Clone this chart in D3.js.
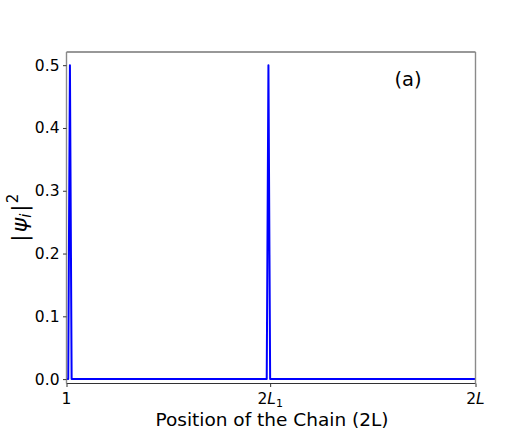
<!DOCTYPE html>
<html>
<head>
<meta charset="utf-8">
<script src="https://cdn.jsdelivr.net/npm/d3@7"></script>
<style>
  html, body { margin: 0; padding: 0; background: #fff; }
  svg { display: block; }
  text { font-family: "DejaVu Sans", sans-serif; }
</style>
</head>
<body>
<svg id="chart" width="529" height="432"></svg>
<script>
// ---- data ----
const nSites = 240;               // 2L sites along the chain
const halfSite = 120;             // 2L1
const peakSites = [3, 119];       // sites with nonzero weight
const peakValues = [0.5, 0.5];    // |psi_i|^2 at those sites
const yTicks = [0.0, 0.1, 0.2, 0.3, 0.4, 0.5];
const xTickSites = [1, halfSite, nSites];

// every other site has zero weight
const series = [];
for (let i = 1; i <= nSites; i++) {
  const k = peakSites.indexOf(i);
  series.push({ site: i, value: k >= 0 ? peakValues[k] : 0 });
}

// ---- layout ----
const svg = d3.select("#chart");
const pLeft = 66.5, pRight = 475.5, pTop = 52, pBottom = 383.5;

const x = d3.scaleLinear().domain([1, nSites]).range([pLeft, pRight]);
const y = d3.scaleLinear().domain([-0.007, 0.521]).range([pBottom, pTop]);

// line
const line = d3.line().x(d => x(d.site)).y(d => y(d.value));
svg.append("path")
  .datum(series)
  .attr("d", line)
  .attr("fill", "none")
  .attr("stroke", "#0000ff")
  .attr("stroke-width", 2)
  .attr("stroke-linejoin", "round");

// spines
svg.append("line").attr("x1", pLeft).attr("x2", pRight).attr("y1", pTop).attr("y2", pTop)
  .attr("stroke", "#333").attr("stroke-width", 1.2);
svg.append("line").attr("x1", pLeft).attr("x2", pRight).attr("y1", pBottom).attr("y2", pBottom)
  .attr("stroke", "#333").attr("stroke-width", 1.2);
svg.append("line").attr("x1", pLeft).attr("x2", pLeft).attr("y1", pTop).attr("y2", pBottom)
  .attr("stroke", "#8a8a8a").attr("stroke-width", 1.4);
svg.append("line").attr("x1", pRight).attr("x2", pRight).attr("y1", pTop).attr("y2", pBottom)
  .attr("stroke", "#8a8a8a").attr("stroke-width", 1.4);

// y axis
const yAxis = d3.axisLeft(y).tickValues(yTicks).tickFormat(d3.format(".1f"))
  .tickSize(3.5).tickPadding(3.5);
const gy = svg.append("g").attr("transform", `translate(${pLeft},0)`).call(yAxis);
gy.select(".domain").remove();
gy.selectAll(".tick line").attr("stroke", "#333");
gy.selectAll(".tick text").attr("font-size", 15.5).attr("fill", "#000")
  .attr("font-family", "DejaVu Sans, sans-serif");

// x axis
const gx = svg.append("g").attr("transform", `translate(0,${pBottom})`)
  .call(d3.axisBottom(x).tickValues(xTickSites).tickFormat(() => "").tickSize(3.5));
gx.select(".domain").remove();
gx.selectAll(".tick line").attr("stroke", "#333");

const xt = svg.append("g").attr("font-size", 15.5).attr("fill", "#000");
// "1"
xt.append("text").attr("x", x(xTickSites[0])).attr("y", 404).attr("text-anchor", "middle").text("1");
// "2L1"
const t2 = xt.append("text").attr("x", x(xTickSites[1])).attr("y", 404).attr("text-anchor", "middle");
t2.append("tspan").text("2");
t2.append("tspan").attr("font-style", "italic").text("L");
t2.append("tspan").attr("font-size", 11).attr("dy", 3).text("1");
// "2L"
const t3 = xt.append("text").attr("x", x(xTickSites[2])).attr("y", 404).attr("text-anchor", "middle");
t3.append("tspan").text("2");
t3.append("tspan").attr("font-style", "italic").text("L");

// x label
svg.append("text").attr("x", (pLeft + pRight) / 2 + 1).attr("y", 426)
  .attr("text-anchor", "middle").attr("font-size", 18.5).text("Position of the Chain (2L)");

// y label
const yl = svg.append("text")
  .attr("transform", `translate(27,${(pTop + pBottom) / 2}) rotate(-90)`)
  .attr("text-anchor", "middle").attr("font-size", 22);
yl.append("tspan").text("|");
yl.append("tspan").attr("dx", 2).attr("font-style", "italic").text("ψ");
yl.append("tspan").attr("font-style", "italic").attr("font-size", 15).attr("dy", 4).text("i");
yl.append("tspan").attr("dx", 2).attr("dy", -4).text("|");
yl.append("tspan").attr("dx", 1).attr("font-size", 15).attr("dy", -9).text("2");

// panel label
svg.append("text").attr("x", 408).attr("y", 86).attr("text-anchor", "middle")
  .attr("font-size", 19.5).text("(a)");
</script>
</body>
</html>
